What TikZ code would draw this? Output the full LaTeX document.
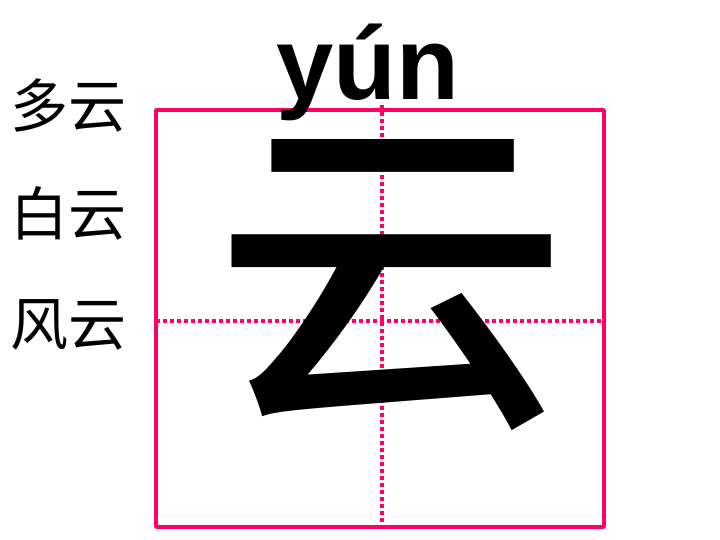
\documentclass[tikz,border=0pt]{standalone}
\usepackage{fontspec}
\setmainfont{Liberation Sans}
\newfontfamily\cjk{Noto Sans CJK SC}
\newfontfamily\cjkmed{Noto Sans CJK SC Medium}
\definecolor{gridpink}{HTML}{FF0066}
\begin{document}
\begin{tikzpicture}[x=1pt,y=-1pt,
  frame/.style={draw=gridpink,line width=3.5pt,line join=round},
  guide/.style={draw=gridpink,line width=3.5pt,dash pattern=on 4pt off 3pt},
  word/.style={inner sep=0pt,anchor=base,font=\cjk\fontsize{58}{58}\selectfont},
  bigchar/.style={inner sep=0pt,anchor=base,font=\cjkmed\fontsize{339}{339}\selectfont},
  pinyin/.style={inner sep=0pt,anchor=base,font=\bfseries\fontsize{103}{103}\selectfont}]
\useasboundingbox (0,0) rectangle (720,540);
\coordinate (vt) at (382,105);
\coordinate (vb) at (382,527);
\coordinate (hl) at (156,321);
\coordinate (hr) at (604,321);
\draw[guide] (vt) -- (vb);
\draw[guide] (hl) -- (hr);
\draw[frame] (156,110) rectangle (604,527);
\node[pinyin] (py) at (368,100) {yún};
\node[bigchar] (ch) at (391,400) {\scalebox{1.05}[1]{云}};
\node[word] (w1) at (68,128) {多云};
\node[word] (w2) at (68,236) {白云};
\node[word] (w3) at (68,345) {风云};
\end{tikzpicture}
\end{document}
